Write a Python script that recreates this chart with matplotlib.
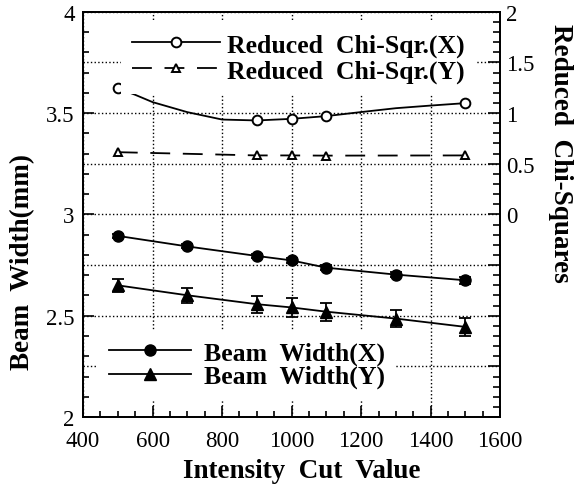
import matplotlib
matplotlib.use("Agg")
import matplotlib.pyplot as plt
from matplotlib.ticker import MultipleLocator, FuncFormatter
from matplotlib.font_manager import FontProperties

# ── Datos ────────────────────────────────────────────────────────────────────
cut = [500, 700, 900, 1000, 1100, 1300, 1500]

beam_x = [2.894, 2.842, 2.795, 2.773, 2.737, 2.703, 2.675]
beam_x_err = [0.010, 0.010, 0.010, 0.012, 0.012, 0.014, 0.016]

beam_y = [2.650, 2.601, 2.557, 2.541, 2.520, 2.486, 2.445]
beam_y_err = [0.033, 0.036, 0.041, 0.048, 0.044, 0.040, 0.044]

# curva chi^2 (X): marcadores solo en 500, 900, 1000, 1100, 1500
chi_x_cut = [500, 550, 600, 700, 800, 900, 1000, 1100, 1200, 1300, 1400, 1500]
chi_x = [1.245, 1.18, 1.108, 1.009, 0.936, 0.927, 0.943, 0.970, 1.010, 1.048, 1.074, 1.098]
chi_x_marks = [0, 5, 6, 7, 11]

chi_y_cut = [500, 900, 1000, 1100, 1500]
chi_y = [0.614, 0.582, 0.582, 0.580, 0.582]

serif = "Liberation Serif"
f_tick = FontProperties(family=serif, size=16.5)
f_lab = FontProperties(family=serif, weight="bold", size=19.5)
f_leg = FontProperties(family=serif, weight="bold", size=18.5)

# ── Figura ───────────────────────────────────────────────────────────────────
fig = plt.figure(figsize=(5.85, 4.89), dpi=100)
ax = fig.add_axes([0.142, 0.145, 0.713, 0.829])
ax2 = ax.twinx()

# ancho del haz (eje izquierdo)
eb_x = ax.errorbar(cut, beam_x, yerr=beam_x_err, fmt="-o", color="k", ms=8,
                   lw=1.3, elinewidth=1.3, capsize=4, capthick=1.3)
eb_y = ax.errorbar(cut, beam_y, yerr=beam_y_err, fmt="-^", color="k", ms=8.5,
                   lw=1.3, elinewidth=1.3, capsize=4, capthick=1.3)

# chi cuadrado reducido (eje derecho)
l_cx, = ax2.plot(chi_x_cut, chi_x, "-o", color="k", lw=1.3, ms=7, mfc="white",
                 mew=1.4, markevery=chi_x_marks)
l_cy, = ax2.plot(chi_y_cut, chi_y, "--^", color="k", lw=1.3, ms=6, mfc="white",
                 mew=1.4, dashes=(11, 7))

ax.set_xlim(400, 1600)
ax.set_ylim(2, 4)
ax2.set_ylim(-2, 2)

ax.xaxis.set_major_locator(MultipleLocator(200))
ax.xaxis.set_minor_locator(MultipleLocator(50))
ax.yaxis.set_major_locator(MultipleLocator(0.5))
ax.yaxis.set_minor_locator(MultipleLocator(0.1))
ax.yaxis.set_major_formatter(FuncFormatter(lambda v, p: f"{v:g}"))
ax2.yaxis.set_major_locator(MultipleLocator(0.5))
ax2.yaxis.set_minor_locator(MultipleLocator(0.1))
ax2.yaxis.set_major_formatter(FuncFormatter(lambda v, p: "" if v < -1e-9 else f"{v:g}"))

ax.tick_params(which="both", direction="in", top=False, right=False, width=1.2)
ax.tick_params(which="major", length=8, pad=6)
ax.tick_params(axis="x", which="major", pad=9)
ax.tick_params(which="minor", length=4)
ax2.tick_params(which="both", direction="in", width=1.2)
ax2.tick_params(which="major", length=9, pad=4)
ax2.tick_params(which="minor", length=5)
for lab in ax.get_xticklabels() + ax.get_yticklabels() + ax2.get_yticklabels():
    lab.set_fontproperties(f_tick)

ax.grid(True, axis="x", ls=":", color="k", lw=1.0)
ax2.grid(True, axis="y", ls=":", color="k", lw=1.0)

for ax_ in (ax, ax2):
    for sp in ax_.spines.values():
        sp.set_linewidth(1.3)
        sp.set_zorder(10)

ax.set_xlabel("Intensity  Cut  Value", fontproperties=f_lab)
ax.xaxis.set_label_coords(0.525, -0.10)
ax.set_ylabel("Beam  Width(mm)", fontproperties=f_lab)
ax.yaxis.set_label_coords(-0.115, 0.385)
ax2.set_ylabel("Reduced  Chi-Squares", fontproperties=f_lab, rotation=270)
ax2.yaxis.set_label_coords(1.175, 0.654)

# leyendas (fondo blanco, sin borde)
leg_kw = dict(frameon=True, fancybox=False, edgecolor="none", facecolor="white",
              framealpha=1, prop=f_leg, borderaxespad=0)
leg1 = ax2.legend([l_cx, l_cy], ["Reduced  Chi-Sqr.(X)", "Reduced  Chi-Sqr.(Y)"],
                  loc="upper left", bbox_to_anchor=(0.09, 0.975),
                  handlelength=3.4, handletextpad=0.31, borderpad=0.45,
                  labelspacing=0.1, **leg_kw)
ax2.add_artist(leg1)
ax2.legend([eb_x.lines[0], eb_y.lines[0]], ["Beam  Width(X)", "Beam  Width(Y)"],
           loc="lower left", bbox_to_anchor=(0.035, 0.043),
           handlelength=3.2, handletextpad=0.47, borderpad=0.45,
           labelspacing=0.0, **leg_kw)

fig.savefig("out.png", dpi=100)
